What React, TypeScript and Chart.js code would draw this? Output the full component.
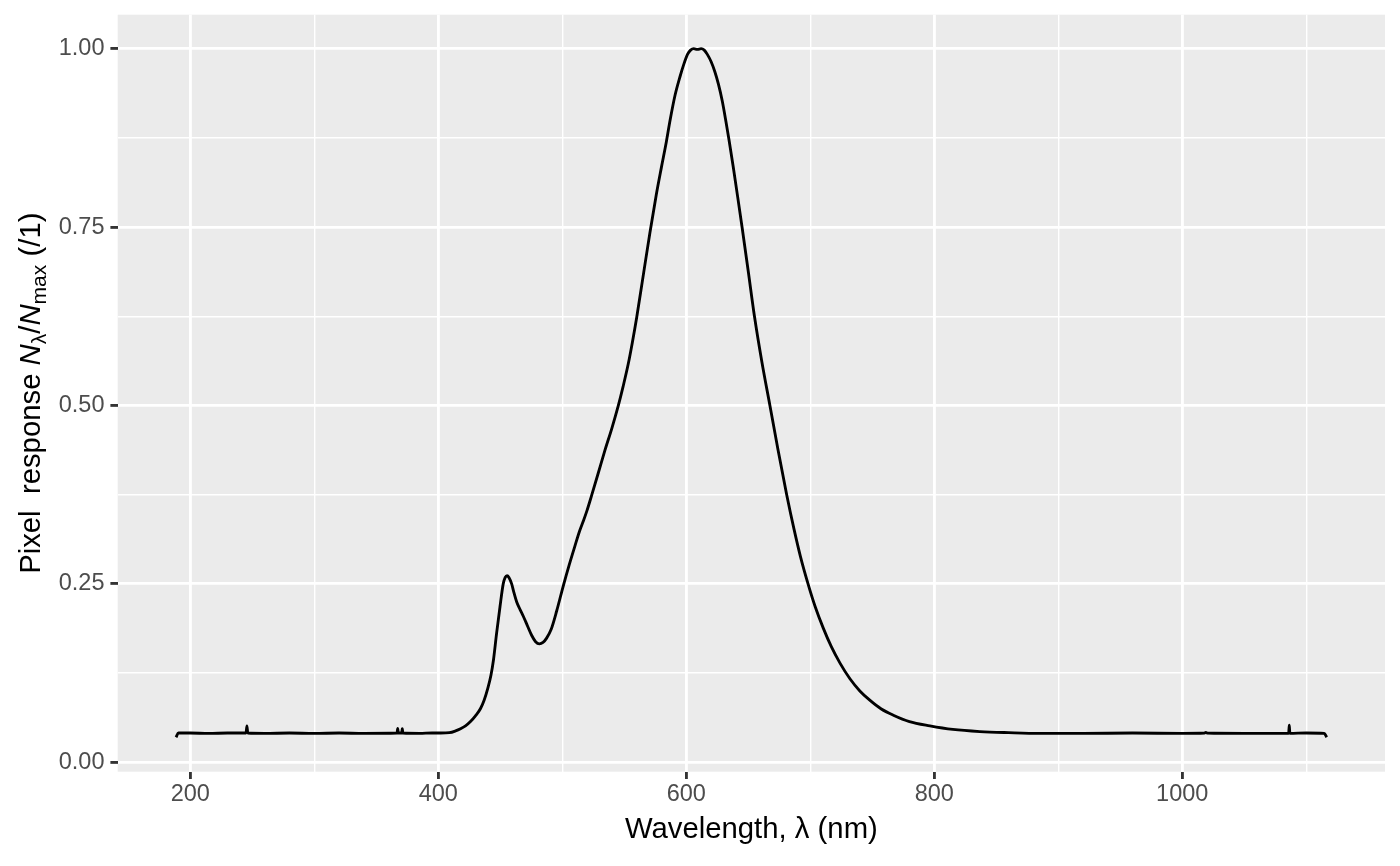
import { useEffect, useRef } from 'react';
import { Chart, registerables } from 'chart.js';

Chart.register(...registerables);

// Normalised pixel response vs wavelength.
const wavelengthNm = [
  188.5, 190.5, 200, 215, 230, 245, 245.7, 246.4, 260, 280, 300, 320, 340,
  366.8, 367.3, 367.8, 370.5, 371, 371.5, 385, 395, 402, 409, 414, 418, 422,
  426, 430, 434, 437, 440, 442.5, 444.5, 447, 449.8, 452.4, 454, 455.5, 457,
  459.2, 461, 463.2, 466, 468.5, 472, 475.3, 478.5, 481.5, 484.5, 487.4, 491,
  495.5, 500.8, 505.5, 510.2, 514, 517, 520, 523.7, 529, 534.4, 540, 545.2,
  549, 553.2, 556.5, 560, 565.3, 570.7, 575.8, 580, 584, 587, 591, 595, 598,
  601, 603.5, 606, 609, 612, 614.5, 617, 620, 623, 626, 629, 632, 634.5, 638,
  641.5, 645, 650, 655, 661, 667.5, 674, 681, 687, 692, 698.4, 704, 710.5,
  717, 724, 732, 740, 748, 757, 767, 780, 796.5, 815, 836.8, 860, 885, 920,
  960, 1000, 1018, 1019, 1020, 1050, 1085.8, 1086.3, 1086.8, 1100, 1114.5,
  1116.5,
];
const pixelResponse = [
  0.035, 0.041, 0.041, 0.0405, 0.041, 0.041, 0.051, 0.041, 0.0405, 0.041,
  0.0405, 0.041, 0.0405, 0.041, 0.0476, 0.041, 0.041, 0.047, 0.041, 0.0405,
  0.041, 0.041, 0.0415, 0.044, 0.047, 0.051, 0.057, 0.065, 0.075, 0.087,
  0.104, 0.122, 0.143, 0.18, 0.218, 0.25, 0.259, 0.2615, 0.259, 0.25, 0.238,
  0.225, 0.214, 0.205, 0.191, 0.178, 0.169, 0.166, 0.168, 0.174, 0.186,
  0.212, 0.247, 0.276, 0.303, 0.324, 0.338, 0.353, 0.374, 0.405, 0.437,
  0.468, 0.4997, 0.526, 0.558, 0.588, 0.623, 0.682, 0.742, 0.795, 0.834,
  0.87, 0.9, 0.935, 0.961, 0.978, 0.992, 0.998, 1.0, 0.999, 1.0, 0.998,
  0.992, 0.982, 0.968, 0.95, 0.927, 0.898, 0.872, 0.833, 0.792, 0.75, 0.688,
  0.625, 0.561, 0.4997, 0.438, 0.375, 0.326, 0.289, 0.249, 0.218, 0.188,
  0.162, 0.139, 0.117, 0.1, 0.087, 0.075, 0.066, 0.057, 0.051, 0.046, 0.043,
  0.0415, 0.0405, 0.0405, 0.041, 0.0405, 0.041, 0.042, 0.041, 0.0405, 0.0405,
  0.052, 0.0405, 0.041, 0.0405, 0.035,
];

const xMajorTicks = [200, 400, 600, 800, 1000];
const xMinorTicks = [300, 500, 700, 900, 1100];
const yMajorTicks = [0, 0.25, 0.5, 0.75, 1];
const yMinorTicks = [0.125, 0.375, 0.625, 0.875];
const yTickLabels = ['0.00', '0.25', '0.50', '0.75', '1.00'];

const FONT = '"Liberation Sans", Arial, sans-serif';
const TICK_SIZE = 23.5;
const TITLE_SIZE = 29.3;
const MAJOR_W = 2.85;
const MINOR_W = 1.42;

// grey panel behind the grid, like ggplot's theme_gray
const panelPlugin = {
  id: 'panel',
  beforeDraw(chart: Chart) {
    const { ctx, chartArea: a } = chart;
    ctx.save();
    ctx.fillStyle = '#EBEBEB';
    ctx.fillRect(a.left, a.top, a.right - a.left, a.bottom - a.top);
    ctx.restore();
  },
};

// y title has subscripts, so draw it by hand
const yTitlePlugin = {
  id: 'yTitle',
  afterDraw(chart: Chart) {
    const { ctx, chartArea: a } = chart;
    const small = TITLE_SIZE * 0.72;
    const parts = [
      { t: 'Pixel  response ', size: TITLE_SIZE, italic: false, shift: 0 },
      { t: 'N', size: TITLE_SIZE, italic: true, shift: 0 },
      { t: 'λ', size: small, italic: false, shift: 6 },
      { t: '/', size: TITLE_SIZE, italic: false, shift: 0 },
      { t: 'N', size: TITLE_SIZE, italic: true, shift: 0 },
      { t: 'max', size: small, italic: false, shift: 6 },
      { t: ' (/1)', size: TITLE_SIZE, italic: false, shift: 0 },
    ];
    const fontOf = (p: { size: number; italic: boolean }) =>
      `${p.italic ? 'italic ' : ''}${p.size}px ${FONT}`;
    ctx.save();
    const widths = parts.map((p) => {
      ctx.font = fontOf(p);
      return ctx.measureText(p.t).width;
    });
    const total = widths.reduce((s, w) => s + w, 0);
    ctx.translate(40, (a.top + a.bottom) / 2);
    ctx.rotate(-Math.PI / 2);
    ctx.fillStyle = '#000000';
    ctx.textBaseline = 'alphabetic';
    let x = -total / 2;
    parts.forEach((p, i) => {
      ctx.font = fontOf(p);
      ctx.fillText(p.t, x, p.shift);
      x += widths[i];
    });
    ctx.restore();
  },
};

function SpectralResponseChart() {
  const canvasRef = useRef<HTMLCanvasElement>(null);
  const chartRef = useRef<Chart | null>(null);

  useEffect(() => {
    if (!canvasRef.current) return;
    const xTicks = [...xMajorTicks, ...xMinorTicks].sort((a, b) => a - b);
    const yTicks = [...yMajorTicks, ...yMinorTicks].sort((a, b) => a - b);

    chartRef.current = new Chart(canvasRef.current, {
      type: 'line',
      data: {
        datasets: [
          {
            data: wavelengthNm.map((x, i) => ({ x, y: pixelResponse[i] })),
            borderColor: '#000000',
            borderWidth: MAJOR_W,
            borderJoinStyle: 'round',
            pointRadius: 0,
            fill: false,
            cubicInterpolationMode: 'monotone',
          },
        ],
      },
      options: {
        responsive: false,
        animation: false,
        layout: { padding: { top: 14.7, right: 15, bottom: 0, left: 0 } },
        plugins: {
          legend: { display: false },
          tooltip: { enabled: false },
        },
        scales: {
          x: {
            type: 'linear',
            min: 141.5,
            max: 1163.5,
            afterBuildTicks: (axis: any) => {
              axis.ticks = xTicks.map((value) => ({ value }));
            },
            afterFit: (axis: any) => {
              axis.height = 94.3;
              axis.paddingLeft = 0;
              axis.paddingRight = 0;
            },
            border: { display: false },
            grid: {
              color: '#FFFFFF',
              lineWidth: (c: any) => (xMajorTicks.includes(c.tick?.value) ? MAJOR_W : MINOR_W),
              tickColor: (c: any) => (xMajorTicks.includes(c.tick?.value) ? '#333333' : 'rgba(0,0,0,0)'),
              tickWidth: MAJOR_W,
              tickLength: 7.3,
            },
            ticks: {
              autoSkip: false,
              maxRotation: 0,
              padding: 1.5,
              color: '#4D4D4D',
              font: { family: FONT, size: TICK_SIZE },
              callback: (value: any) => (xMajorTicks.includes(value) ? String(value) : ''),
            },
            title: {
              display: true,
              text: 'Wavelength, λ (nm)',
              color: '#000000',
              font: { family: FONT, size: TITLE_SIZE },
              padding: { top: 0, bottom: 18.6 },
            },
          },
          y: {
            type: 'linear',
            min: -0.0132,
            max: 1.0476,
            afterBuildTicks: (axis: any) => {
              axis.ticks = yTicks.map((value) => ({ value }));
            },
            afterFit: (axis: any) => {
              axis.width = 117.7;
              axis.paddingTop = 0;
              axis.paddingBottom = 0;
            },
            border: { display: false },
            grid: {
              color: '#FFFFFF',
              lineWidth: (c: any) => (yMajorTicks.includes(c.tick?.value) ? MAJOR_W : MINOR_W),
              tickColor: (c: any) => (yMajorTicks.includes(c.tick?.value) ? '#333333' : 'rgba(0,0,0,0)'),
              tickWidth: MAJOR_W,
              tickLength: 7.3,
            },
            ticks: {
              autoSkip: false,
              padding: 5.9,
              color: '#4D4D4D',
              font: { family: FONT, size: TICK_SIZE },
              callback: (value: any) => yTickLabels[yMajorTicks.indexOf(value)] ?? '',
            },
          },
        },
      },
      plugins: [panelPlugin, yTitlePlugin],
    });

    return () => {
      chartRef.current?.destroy();
    };
  }, []);

  return (
    <div style={{ position: 'absolute', left: 0, top: 0, width: 1400, height: 866, background: '#FFFFFF' }}>
      <canvas
        ref={canvasRef}
        width={1400}
        height={866}
        style={{ display: 'block' }}
        role="img"
        aria-label="Line chart of normalised pixel response against wavelength, peaking near 605 nm."
      />
    </div>
  );
}

export default function App() {
  return <SpectralResponseChart />;
}
